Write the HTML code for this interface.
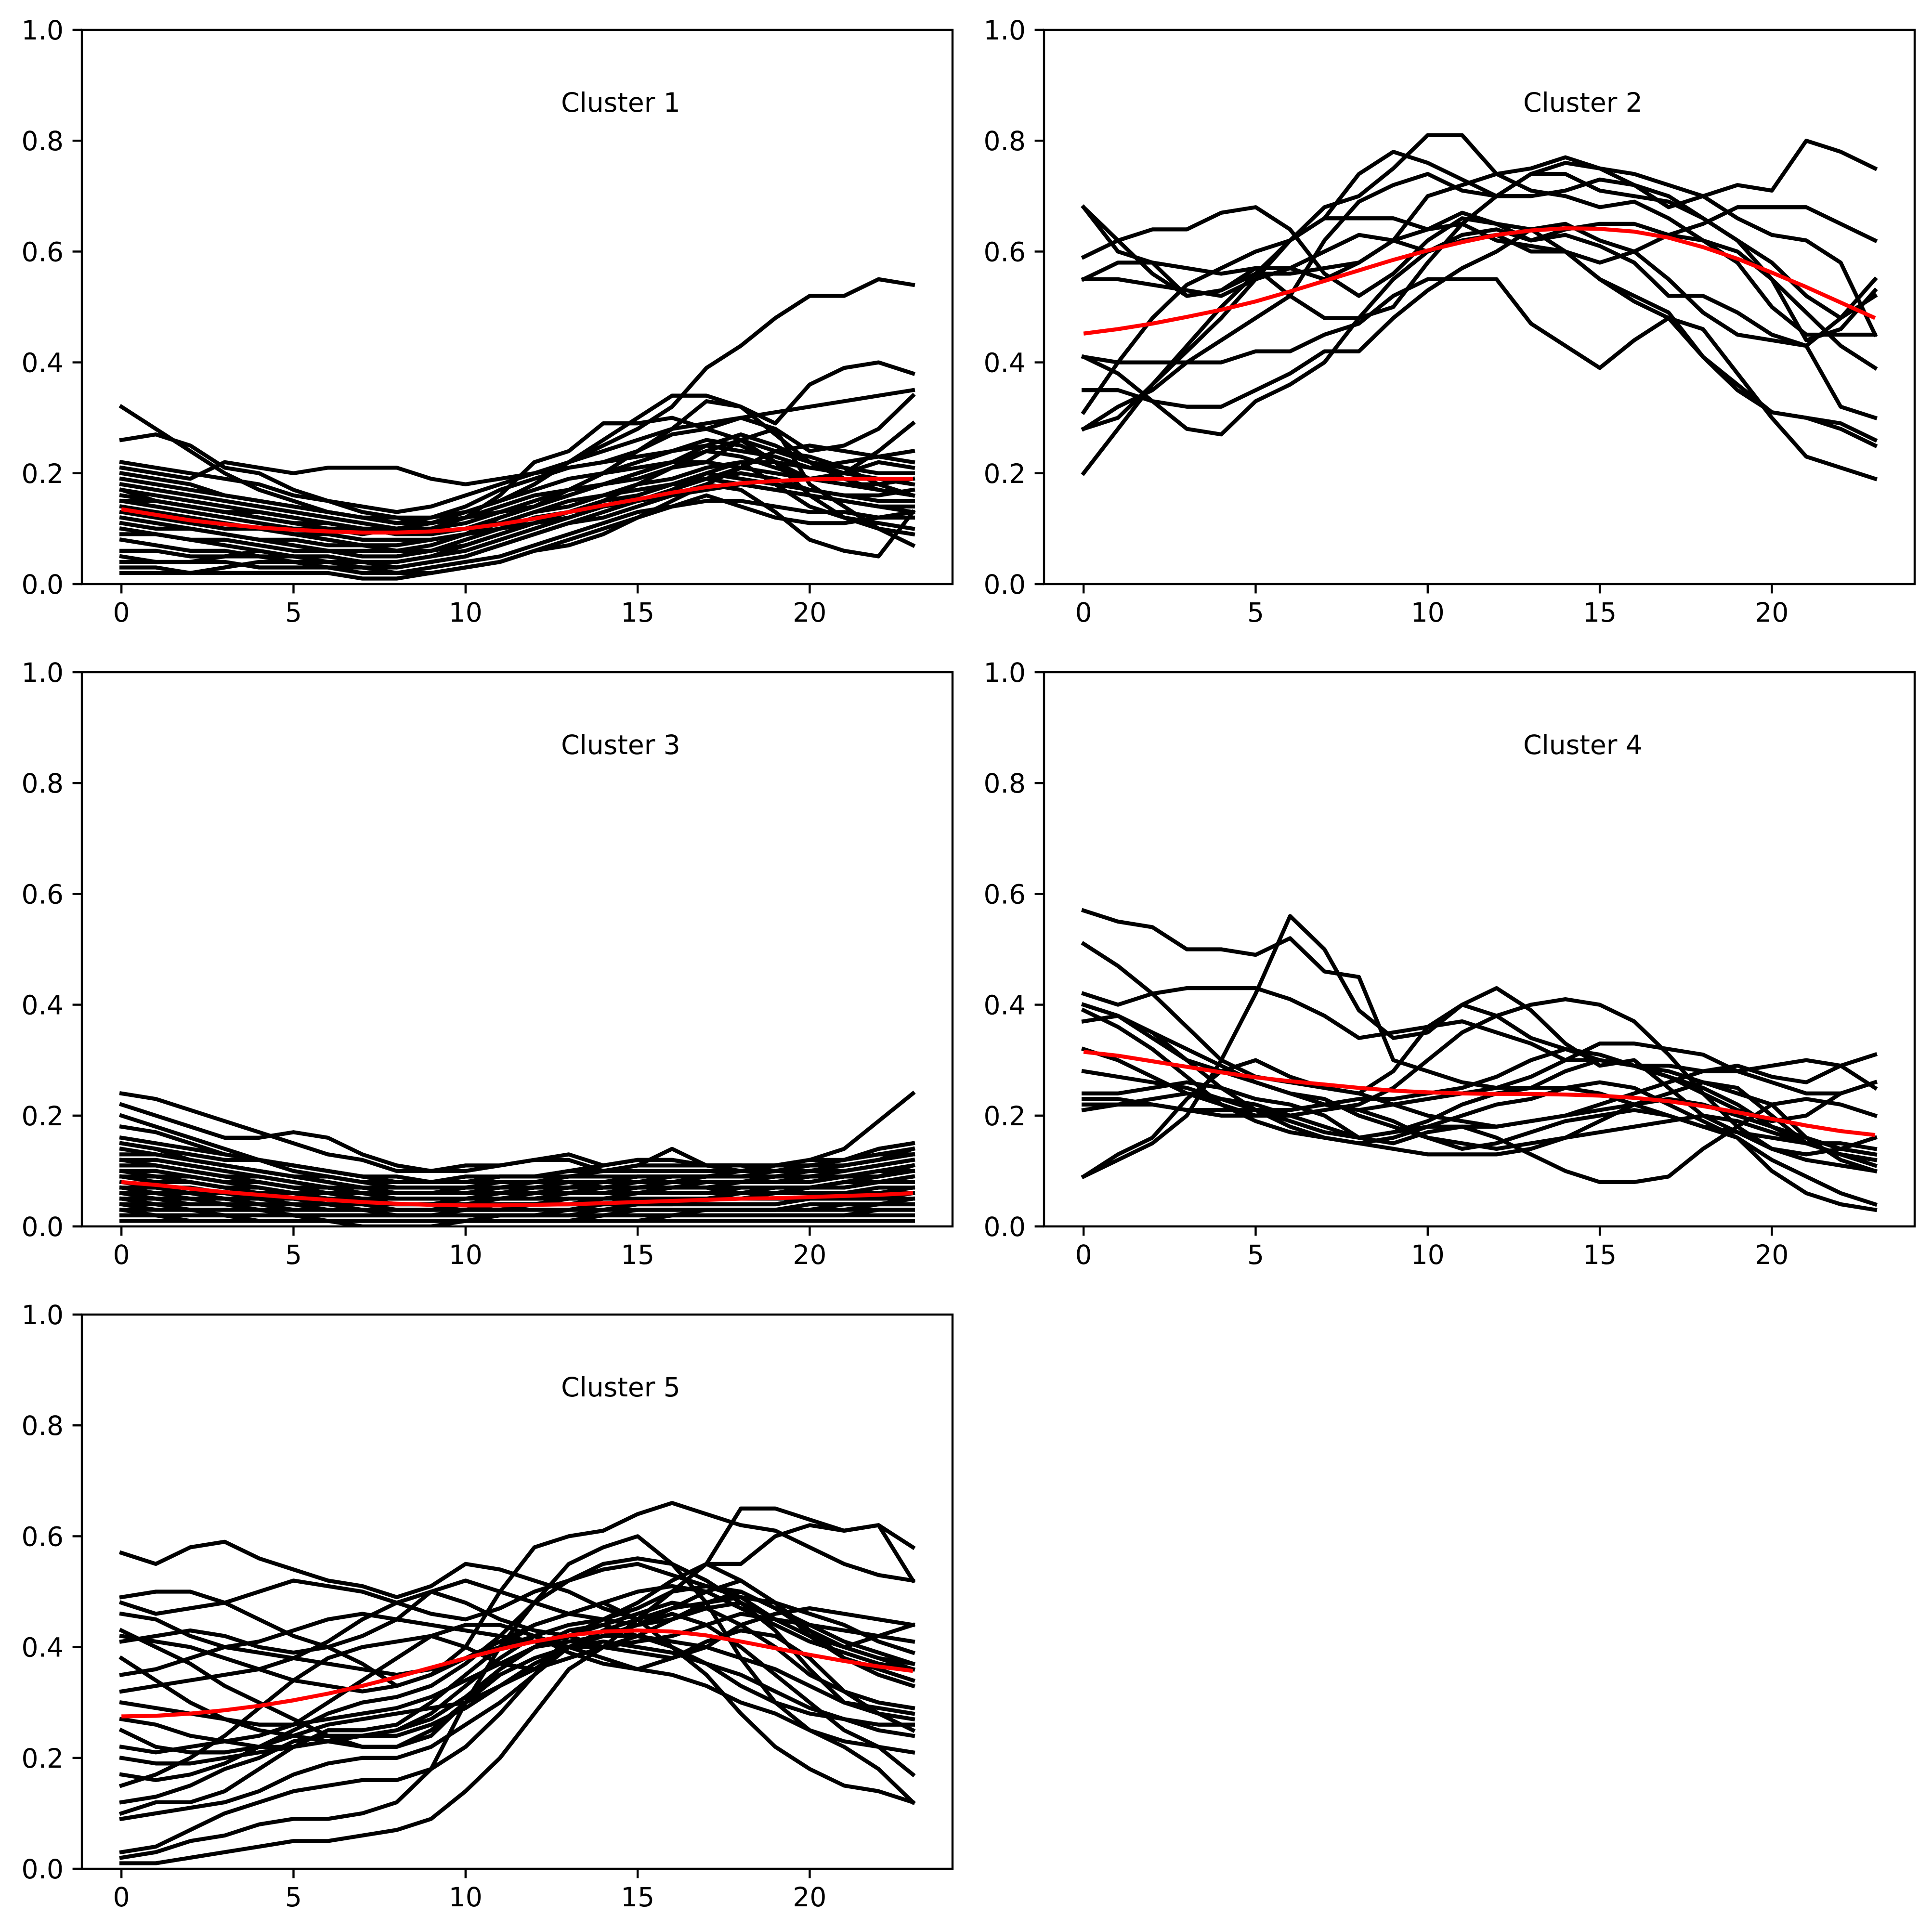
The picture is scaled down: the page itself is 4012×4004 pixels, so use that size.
<!DOCTYPE html>
<html><head><meta charset="utf-8"><style>
html,body{margin:0;padding:0;background:#fff;}
svg{display:block;}
text{font-family:"DejaVu Sans","Liberation Sans",sans-serif;font-size:55px;fill:#000;}
</style></head><body>
<svg id="fig" width="4012" height="4004" viewBox="0 0 4012 4004" xmlns="http://www.w3.org/2000/svg"></svg>
<script>
const xTicks=[0,5,10,15,20];
const yTicks=[0,0.2,0.4,0.6,0.8,1.0];
const yTickLabels=["0.0","0.2","0.4","0.6","0.8","1.0"];
const clusterTitles=["Cluster 1","Cluster 2","Cluster 3","Cluster 4","Cluster 5"];

const c1Lines=[
[0.15,0.14,0.13,0.12,0.11,0.10,0.10,0.09,0.10,0.11,0.13,0.15,0.18,0.22,0.25,0.28,0.32,0.39,0.43,0.48,0.52,0.52,0.55,0.54],
[0.32,0.28,0.24,0.20,0.17,0.15,0.13,0.12,0.11,0.12,0.14,0.17,0.19,0.21,0.22,0.24,0.28,0.33,0.32,0.29,0.36,0.39,0.40,0.38],
[0.26,0.27,0.25,0.21,0.20,0.17,0.15,0.13,0.12,0.11,0.13,0.15,0.18,0.22,0.26,0.30,0.34,0.34,0.32,0.27,0.22,0.19,0.17,0.16],
[0.21,0.20,0.19,0.22,0.21,0.20,0.21,0.21,0.21,0.19,0.18,0.19,0.20,0.22,0.24,0.26,0.28,0.29,0.30,0.31,0.32,0.33,0.34,0.35],
[0.18,0.17,0.16,0.15,0.14,0.13,0.12,0.11,0.10,0.10,0.12,0.16,0.22,0.24,0.29,0.29,0.30,0.28,0.26,0.24,0.22,0.21,0.20,0.20],
[0.17,0.15,0.14,0.13,0.12,0.11,0.10,0.10,0.09,0.10,0.11,0.13,0.14,0.17,0.20,0.24,0.27,0.28,0.30,0.28,0.24,0.25,0.28,0.34],
[0.12,0.11,0.10,0.09,0.08,0.07,0.06,0.06,0.06,0.07,0.09,0.12,0.14,0.16,0.18,0.20,0.22,0.25,0.27,0.25,0.22,0.20,0.24,0.29],
[0.10,0.09,0.08,0.07,0.06,0.05,0.05,0.04,0.04,0.05,0.07,0.09,0.11,0.13,0.15,0.18,0.21,0.24,0.26,0.22,0.16,0.12,0.10,0.09],
[0.05,0.04,0.04,0.05,0.06,0.05,0.05,0.04,0.03,0.04,0.05,0.07,0.09,0.11,0.13,0.15,0.17,0.20,0.22,0.18,0.14,0.12,0.11,0.10],
[0.03,0.03,0.02,0.03,0.04,0.04,0.03,0.03,0.02,0.02,0.03,0.04,0.06,0.08,0.10,0.12,0.15,0.18,0.21,0.24,0.25,0.24,0.23,0.22],
[0.02,0.02,0.02,0.02,0.02,0.02,0.02,0.01,0.01,0.02,0.03,0.04,0.06,0.07,0.09,0.12,0.14,0.16,0.14,0.12,0.11,0.11,0.12,0.13],
[0.14,0.13,0.12,0.11,0.10,0.09,0.09,0.08,0.08,0.08,0.09,0.10,0.11,0.12,0.14,0.16,0.18,0.19,0.18,0.17,0.16,0.15,0.14,0.13],
[0.16,0.15,0.14,0.13,0.12,0.11,0.11,0.10,0.10,0.11,0.12,0.14,0.16,0.17,0.18,0.19,0.21,0.22,0.26,0.28,0.18,0.14,0.10,0.07],
[0.11,0.10,0.10,0.09,0.08,0.08,0.07,0.07,0.06,0.06,0.08,0.10,0.12,0.13,0.14,0.15,0.17,0.19,0.21,0.24,0.23,0.21,0.18,0.16],
[0.20,0.19,0.18,0.16,0.15,0.14,0.13,0.12,0.11,0.11,0.12,0.13,0.15,0.17,0.20,0.22,0.24,0.26,0.25,0.22,0.19,0.20,0.22,0.21],
[0.08,0.07,0.06,0.06,0.05,0.05,0.04,0.04,0.04,0.05,0.06,0.08,0.10,0.12,0.14,0.15,0.16,0.18,0.17,0.13,0.08,0.06,0.05,0.13],
[0.22,0.21,0.20,0.19,0.18,0.16,0.15,0.14,0.13,0.14,0.16,0.18,0.20,0.21,0.22,0.23,0.24,0.25,0.24,0.23,0.21,0.20,0.19,0.18],
[0.19,0.18,0.17,0.16,0.15,0.14,0.13,0.12,0.12,0.12,0.13,0.15,0.17,0.19,0.20,0.21,0.22,0.22,0.21,0.20,0.19,0.18,0.17,0.16],
[0.13,0.12,0.11,0.10,0.10,0.09,0.08,0.07,0.07,0.08,0.09,0.11,0.13,0.14,0.16,0.17,0.18,0.20,0.19,0.18,0.17,0.16,0.15,0.15],
[0.06,0.06,0.05,0.05,0.05,0.04,0.04,0.03,0.03,0.04,0.05,0.07,0.09,0.11,0.12,0.14,0.16,0.17,0.18,0.17,0.16,0.15,0.14,0.14],
[0.04,0.04,0.04,0.04,0.03,0.03,0.03,0.02,0.02,0.03,0.04,0.05,0.07,0.09,0.11,0.13,0.14,0.15,0.15,0.14,0.13,0.13,0.12,0.12],
[0.17,0.16,0.15,0.14,0.13,0.12,0.11,0.10,0.09,0.09,0.10,0.12,0.14,0.16,0.18,0.20,0.22,0.24,0.23,0.21,0.19,0.18,0.18,0.19],
[0.09,0.09,0.08,0.08,0.07,0.06,0.06,0.05,0.05,0.06,0.07,0.09,0.11,0.13,0.15,0.16,0.18,0.19,0.20,0.19,0.17,0.16,0.16,0.17],
[0.15,0.15,0.14,0.13,0.13,0.12,0.11,0.10,0.09,0.09,0.10,0.11,0.13,0.15,0.16,0.18,0.19,0.21,0.22,0.22,0.21,0.22,0.23,0.24]
];
const c1Mean=[0.135,0.125,0.115,0.108,0.102,0.098,0.095,0.093,0.093,0.095,0.100,0.108,0.118,0.130,0.142,0.153,0.165,0.175,0.182,0.186,0.189,0.190,0.190,0.190];

const c2Lines=[
[0.68,0.60,0.58,0.52,0.53,0.56,0.56,0.57,0.58,0.62,0.70,0.72,0.74,0.75,0.77,0.75,0.72,0.68,0.70,0.72,0.71,0.80,0.78,0.75],
[0.20,0.28,0.36,0.43,0.50,0.56,0.62,0.66,0.74,0.78,0.76,0.73,0.70,0.74,0.76,0.75,0.74,0.72,0.70,0.66,0.63,0.62,0.58,0.45],
[0.28,0.30,0.36,0.42,0.48,0.55,0.62,0.68,0.70,0.75,0.81,0.81,0.74,0.71,0.70,0.68,0.69,0.66,0.62,0.60,0.55,0.49,0.43,0.39],
[0.59,0.62,0.64,0.64,0.67,0.68,0.64,0.56,0.52,0.56,0.62,0.66,0.65,0.64,0.60,0.55,0.52,0.49,0.41,0.35,0.31,0.30,0.28,0.25],
[0.41,0.40,0.40,0.40,0.40,0.42,0.42,0.45,0.47,0.52,0.55,0.55,0.55,0.47,0.43,0.39,0.44,0.48,0.46,0.38,0.30,0.23,0.21,0.19],
[0.35,0.35,0.33,0.32,0.32,0.35,0.38,0.42,0.42,0.48,0.53,0.57,0.60,0.64,0.65,0.62,0.60,0.55,0.49,0.45,0.44,0.43,0.32,0.30],
[0.55,0.58,0.58,0.57,0.56,0.57,0.57,0.55,0.58,0.62,0.64,0.65,0.62,0.61,0.60,0.58,0.60,0.63,0.65,0.68,0.68,0.68,0.65,0.62],
[0.68,0.62,0.56,0.52,0.53,0.57,0.52,0.62,0.69,0.72,0.74,0.71,0.70,0.74,0.74,0.71,0.70,0.69,0.66,0.62,0.55,0.44,0.46,0.53],
[0.31,0.40,0.48,0.54,0.57,0.60,0.62,0.66,0.66,0.66,0.64,0.67,0.65,0.62,0.63,0.61,0.58,0.52,0.52,0.49,0.45,0.43,0.48,0.55],
[0.41,0.38,0.33,0.28,0.27,0.33,0.36,0.40,0.48,0.55,0.60,0.63,0.64,0.62,0.64,0.65,0.65,0.63,0.62,0.58,0.50,0.45,0.45,0.45],
[0.55,0.55,0.54,0.53,0.52,0.55,0.57,0.60,0.63,0.62,0.60,0.62,0.63,0.60,0.60,0.55,0.51,0.48,0.41,0.36,0.31,0.30,0.29,0.26],
[0.28,0.32,0.35,0.40,0.44,0.48,0.52,0.48,0.48,0.50,0.58,0.65,0.70,0.70,0.71,0.73,0.72,0.70,0.66,0.62,0.58,0.52,0.48,0.52]
];
const c2Mean=[0.452,0.460,0.470,0.482,0.495,0.510,0.528,0.547,0.566,0.585,0.602,0.617,0.630,0.638,0.642,0.641,0.636,0.625,0.608,0.587,0.562,0.536,0.508,0.480];

const c3Lines=[
[0.24,0.23,0.21,0.19,0.17,0.15,0.13,0.12,0.10,0.10,0.10,0.11,0.12,0.13,0.11,0.12,0.12,0.11,0.11,0.11,0.12,0.14,0.19,0.24],
[0.22,0.20,0.18,0.16,0.16,0.17,0.16,0.13,0.11,0.10,0.11,0.11,0.12,0.12,0.10,0.11,0.14,0.11,0.10,0.11,0.11,0.12,0.14,0.15],
[0.20,0.18,0.16,0.14,0.12,0.10,0.09,0.08,0.08,0.08,0.09,0.09,0.09,0.10,0.11,0.12,0.12,0.11,0.11,0.10,0.11,0.12,0.14,0.15],
[0.15,0.14,0.13,0.12,0.12,0.11,0.10,0.09,0.08,0.08,0.08,0.08,0.08,0.09,0.09,0.09,0.09,0.09,0.09,0.09,0.10,0.10,0.11,0.12],
[0.12,0.12,0.11,0.10,0.09,0.08,0.07,0.07,0.06,0.06,0.06,0.07,0.07,0.07,0.08,0.08,0.08,0.08,0.08,0.08,0.08,0.09,0.09,0.10],
[0.10,0.10,0.09,0.08,0.07,0.06,0.06,0.05,0.05,0.05,0.05,0.05,0.06,0.06,0.06,0.06,0.07,0.07,0.07,0.07,0.07,0.07,0.08,0.08],
[0.08,0.07,0.07,0.06,0.05,0.05,0.04,0.04,0.04,0.04,0.04,0.04,0.04,0.05,0.05,0.05,0.05,0.05,0.06,0.06,0.06,0.06,0.06,0.07],
[0.06,0.05,0.05,0.04,0.04,0.03,0.03,0.03,0.03,0.03,0.03,0.03,0.03,0.03,0.04,0.04,0.04,0.04,0.04,0.04,0.05,0.05,0.05,0.05],
[0.04,0.04,0.03,0.03,0.03,0.02,0.02,0.02,0.02,0.02,0.02,0.02,0.02,0.02,0.03,0.03,0.03,0.03,0.03,0.03,0.03,0.03,0.04,0.04],
[0.02,0.02,0.02,0.02,0.01,0.01,0.01,0.01,0.01,0.01,0.01,0.01,0.01,0.01,0.01,0.01,0.02,0.02,0.02,0.02,0.02,0.02,0.02,0.02],
[0.13,0.13,0.12,0.11,0.10,0.09,0.08,0.07,0.06,0.06,0.07,0.07,0.08,0.08,0.07,0.07,0.07,0.08,0.08,0.09,0.10,0.11,0.12,0.13],
[0.09,0.08,0.08,0.07,0.06,0.06,0.05,0.05,0.04,0.04,0.05,0.05,0.05,0.06,0.06,0.07,0.07,0.07,0.06,0.06,0.07,0.08,0.09,0.11],
[0.05,0.05,0.04,0.04,0.04,0.04,0.03,0.03,0.03,0.03,0.04,0.04,0.04,0.04,0.04,0.05,0.05,0.05,0.05,0.06,0.06,0.06,0.07,0.07],
[0.03,0.03,0.03,0.02,0.02,0.02,0.02,0.02,0.02,0.02,0.02,0.02,0.02,0.03,0.03,0.03,0.03,0.03,0.03,0.03,0.04,0.04,0.04,0.04],
[0.15,0.14,0.12,0.11,0.10,0.09,0.08,0.07,0.07,0.07,0.07,0.07,0.07,0.08,0.08,0.09,0.09,0.09,0.09,0.10,0.10,0.11,0.12,0.14],
[0.01,0.01,0.01,0.01,0.01,0.01,0.01,0.00,0.00,0.00,0.01,0.01,0.01,0.01,0.01,0.01,0.01,0.01,0.01,0.01,0.01,0.01,0.01,0.01],
[0.07,0.06,0.06,0.05,0.05,0.04,0.04,0.04,0.03,0.03,0.03,0.04,0.04,0.04,0.05,0.05,0.05,0.05,0.05,0.05,0.05,0.06,0.06,0.06],
[0.11,0.11,0.10,0.09,0.08,0.07,0.06,0.06,0.05,0.05,0.05,0.06,0.06,0.06,0.07,0.07,0.07,0.07,0.08,0.08,0.08,0.09,0.10,0.11],
[0.14,0.13,0.12,0.11,0.10,0.09,0.09,0.08,0.07,0.07,0.07,0.08,0.08,0.08,0.08,0.08,0.09,0.09,0.10,0.10,0.11,0.11,0.12,0.13],
[0.10,0.09,0.09,0.08,0.08,0.07,0.07,0.06,0.06,0.06,0.06,0.06,0.06,0.07,0.07,0.07,0.08,0.08,0.08,0.08,0.09,0.09,0.10,0.10],
[0.07,0.07,0.06,0.06,0.05,0.05,0.05,0.04,0.04,0.04,0.04,0.05,0.05,0.05,0.05,0.06,0.06,0.06,0.06,0.07,0.07,0.07,0.08,0.09],
[0.05,0.04,0.04,0.04,0.03,0.03,0.03,0.03,0.02,0.02,0.03,0.03,0.03,0.03,0.03,0.04,0.04,0.04,0.04,0.04,0.05,0.05,0.05,0.06],
[0.03,0.02,0.02,0.02,0.02,0.02,0.01,0.01,0.01,0.01,0.01,0.02,0.02,0.02,0.02,0.02,0.02,0.03,0.03,0.03,0.03,0.03,0.03,0.03],
[0.16,0.15,0.14,0.13,0.12,0.11,0.10,0.09,0.08,0.08,0.08,0.09,0.09,0.10,0.10,0.10,0.10,0.10,0.10,0.11,0.11,0.12,0.13,0.14],
[0.12,0.11,0.10,0.09,0.09,0.08,0.07,0.06,0.06,0.06,0.06,0.06,0.07,0.07,0.07,0.08,0.08,0.09,0.09,0.09,0.09,0.10,0.11,0.12],
[0.09,0.09,0.08,0.07,0.07,0.06,0.05,0.05,0.05,0.05,0.05,0.05,0.05,0.06,0.06,0.06,0.06,0.06,0.07,0.07,0.07,0.08,0.08,0.09],
[0.04,0.03,0.03,0.03,0.03,0.02,0.02,0.02,0.02,0.02,0.02,0.02,0.02,0.02,0.02,0.03,0.03,0.03,0.03,0.03,0.03,0.04,0.04,0.05],
[0.06,0.06,0.05,0.05,0.04,0.04,0.04,0.03,0.03,0.03,0.03,0.03,0.04,0.04,0.04,0.04,0.04,0.05,0.05,0.05,0.05,0.05,0.06,0.06],
[0.18,0.17,0.15,0.13,0.12,0.11,0.10,0.09,0.09,0.08,0.08,0.09,0.09,0.09,0.10,0.11,0.11,0.11,0.11,0.11,0.12,0.12,0.13,0.13],
[0.02,0.02,0.01,0.01,0.01,0.01,0.01,0.01,0.01,0.01,0.01,0.01,0.01,0.01,0.02,0.02,0.02,0.02,0.02,0.02,0.02,0.02,0.03,0.03]
];
const c3Mean=[0.080,0.075,0.068,0.062,0.057,0.052,0.048,0.044,0.041,0.039,0.038,0.038,0.039,0.040,0.042,0.044,0.046,0.048,0.050,0.051,0.053,0.055,0.057,0.060];

const c4Lines=[
[0.57,0.55,0.54,0.50,0.50,0.49,0.52,0.46,0.45,0.30,0.28,0.26,0.25,0.25,0.28,0.30,0.29,0.28,0.26,0.24,0.22,0.16,0.12,0.10],
[0.51,0.47,0.42,0.36,0.30,0.27,0.26,0.25,0.24,0.22,0.20,0.19,0.18,0.19,0.20,0.21,0.22,0.24,0.26,0.25,0.20,0.15,0.13,0.12],
[0.09,0.12,0.15,0.20,0.30,0.42,0.56,0.50,0.39,0.34,0.35,0.40,0.43,0.39,0.33,0.29,0.30,0.25,0.20,0.17,0.14,0.13,0.14,0.16],
[0.42,0.40,0.42,0.43,0.43,0.43,0.41,0.38,0.34,0.35,0.36,0.37,0.35,0.33,0.30,0.30,0.29,0.29,0.28,0.28,0.29,0.30,0.29,0.25],
[0.40,0.38,0.35,0.32,0.29,0.26,0.24,0.22,0.21,0.22,0.23,0.24,0.25,0.27,0.30,0.33,0.33,0.32,0.31,0.28,0.26,0.24,0.24,0.26],
[0.22,0.22,0.23,0.24,0.23,0.22,0.20,0.18,0.16,0.17,0.18,0.18,0.18,0.19,0.20,0.22,0.24,0.26,0.28,0.29,0.27,0.26,0.29,0.31],
[0.24,0.24,0.25,0.26,0.25,0.23,0.22,0.20,0.16,0.15,0.17,0.18,0.16,0.13,0.10,0.08,0.08,0.09,0.14,0.18,0.22,0.23,0.22,0.20],
[0.39,0.36,0.32,0.27,0.22,0.19,0.17,0.16,0.15,0.16,0.18,0.20,0.22,0.23,0.25,0.26,0.25,0.22,0.19,0.16,0.10,0.06,0.04,0.03],
[0.28,0.27,0.26,0.25,0.23,0.21,0.19,0.17,0.16,0.17,0.19,0.22,0.24,0.25,0.25,0.24,0.22,0.20,0.18,0.17,0.16,0.15,0.15,0.14],
[0.09,0.13,0.16,0.23,0.28,0.30,0.27,0.25,0.24,0.28,0.36,0.40,0.38,0.34,0.32,0.30,0.29,0.27,0.25,0.22,0.18,0.15,0.13,0.11],
[0.37,0.38,0.35,0.30,0.25,0.21,0.18,0.16,0.15,0.14,0.13,0.13,0.13,0.14,0.16,0.19,0.22,0.23,0.22,0.20,0.18,0.16,0.14,0.13],
[0.23,0.23,0.22,0.21,0.21,0.21,0.21,0.22,0.23,0.23,0.24,0.25,0.27,0.30,0.32,0.31,0.29,0.27,0.24,0.21,0.19,0.20,0.24,0.26],
[0.32,0.30,0.27,0.24,0.22,0.20,0.20,0.21,0.22,0.25,0.30,0.35,0.38,0.40,0.41,0.40,0.37,0.31,0.24,0.18,0.14,0.12,0.11,0.10],
[0.21,0.22,0.22,0.21,0.20,0.20,0.21,0.22,0.21,0.19,0.16,0.15,0.14,0.15,0.16,0.17,0.18,0.19,0.20,0.19,0.17,0.15,0.13,0.12],
[0.40,0.38,0.34,0.30,0.28,0.26,0.24,0.23,0.20,0.18,0.16,0.14,0.15,0.17,0.19,0.20,0.21,0.20,0.18,0.16,0.12,0.09,0.06,0.04]
];
const c4Mean=[0.315,0.308,0.298,0.288,0.278,0.269,0.262,0.256,0.250,0.245,0.242,0.240,0.239,0.239,0.238,0.236,0.232,0.226,0.217,0.206,0.194,0.182,0.172,0.165];

const c5Lines=[
[0.57,0.55,0.58,0.59,0.56,0.54,0.52,0.51,0.49,0.51,0.55,0.54,0.52,0.50,0.47,0.45,0.50,0.55,0.65,0.65,0.63,0.61,0.62,0.52],
[0.49,0.50,0.50,0.48,0.45,0.42,0.40,0.37,0.33,0.35,0.40,0.50,0.58,0.60,0.61,0.64,0.66,0.64,0.62,0.61,0.58,0.55,0.53,0.52],
[0.01,0.01,0.02,0.03,0.04,0.05,0.05,0.06,0.07,0.09,0.14,0.20,0.28,0.36,0.40,0.45,0.50,0.55,0.55,0.60,0.62,0.61,0.62,0.58],
[0.03,0.04,0.07,0.10,0.12,0.14,0.15,0.16,0.16,0.18,0.22,0.28,0.35,0.42,0.45,0.48,0.52,0.55,0.52,0.48,0.42,0.38,0.35,0.33],
[0.02,0.03,0.05,0.06,0.08,0.09,0.09,0.10,0.12,0.18,0.30,0.40,0.48,0.55,0.58,0.60,0.55,0.48,0.38,0.30,0.25,0.22,0.18,0.12],
[0.10,0.12,0.12,0.14,0.18,0.22,0.25,0.25,0.26,0.30,0.35,0.40,0.44,0.46,0.48,0.45,0.40,0.35,0.28,0.22,0.18,0.15,0.14,0.12],
[0.41,0.42,0.43,0.42,0.40,0.39,0.40,0.42,0.45,0.50,0.52,0.50,0.48,0.46,0.45,0.44,0.45,0.47,0.48,0.45,0.42,0.40,0.38,0.36],
[0.38,0.34,0.30,0.27,0.25,0.24,0.23,0.22,0.22,0.24,0.30,0.35,0.38,0.40,0.42,0.44,0.47,0.50,0.52,0.48,0.43,0.38,0.36,0.34],
[0.25,0.22,0.21,0.21,0.22,0.24,0.26,0.27,0.28,0.29,0.30,0.33,0.36,0.40,0.43,0.45,0.47,0.48,0.49,0.48,0.46,0.44,0.41,0.39],
[0.17,0.16,0.17,0.19,0.22,0.25,0.28,0.30,0.31,0.33,0.37,0.42,0.48,0.52,0.55,0.56,0.55,0.52,0.48,0.43,0.36,0.30,0.28,0.27],
[0.46,0.45,0.42,0.40,0.39,0.38,0.37,0.36,0.35,0.36,0.38,0.40,0.42,0.40,0.38,0.36,0.35,0.33,0.30,0.28,0.25,0.23,0.22,0.21],
[0.32,0.33,0.34,0.35,0.36,0.38,0.41,0.45,0.48,0.50,0.48,0.45,0.43,0.42,0.40,0.39,0.38,0.40,0.44,0.46,0.47,0.46,0.45,0.44],
[0.09,0.10,0.11,0.12,0.14,0.17,0.19,0.20,0.20,0.22,0.26,0.30,0.35,0.40,0.42,0.44,0.46,0.44,0.40,0.35,0.30,0.25,0.22,0.17],
[0.22,0.21,0.22,0.23,0.24,0.26,0.30,0.34,0.38,0.42,0.44,0.44,0.42,0.39,0.37,0.36,0.38,0.41,0.43,0.42,0.38,0.32,0.28,0.25],
[0.43,0.40,0.37,0.33,0.30,0.27,0.24,0.22,0.22,0.25,0.30,0.36,0.40,0.43,0.44,0.42,0.40,0.37,0.33,0.30,0.28,0.27,0.26,0.26],
[0.15,0.17,0.20,0.24,0.29,0.34,0.38,0.40,0.41,0.42,0.40,0.37,0.36,0.38,0.40,0.42,0.45,0.48,0.50,0.47,0.44,0.41,0.39,0.37],
[0.48,0.46,0.47,0.48,0.50,0.52,0.51,0.50,0.48,0.46,0.45,0.47,0.50,0.52,0.54,0.55,0.53,0.51,0.50,0.47,0.43,0.40,0.42,0.44],
[0.12,0.13,0.15,0.18,0.20,0.23,0.24,0.24,0.25,0.28,0.33,0.38,0.42,0.44,0.45,0.47,0.50,0.51,0.49,0.45,0.42,0.40,0.38,0.37],
[0.30,0.29,0.28,0.27,0.26,0.26,0.27,0.28,0.29,0.31,0.34,0.37,0.40,0.41,0.42,0.42,0.41,0.40,0.38,0.36,0.33,0.30,0.29,0.28],
[0.35,0.36,0.38,0.40,0.41,0.43,0.45,0.46,0.45,0.44,0.43,0.42,0.41,0.40,0.40,0.41,0.42,0.44,0.46,0.45,0.44,0.43,0.42,0.41],
[0.20,0.19,0.19,0.20,0.21,0.22,0.23,0.24,0.25,0.27,0.31,0.36,0.40,0.42,0.44,0.46,0.48,0.47,0.44,0.40,0.35,0.32,0.30,0.29],
[0.27,0.26,0.24,0.23,0.22,0.22,0.23,0.24,0.24,0.26,0.29,0.33,0.37,0.40,0.41,0.40,0.39,0.37,0.35,0.32,0.29,0.27,0.25,0.24],
[0.42,0.41,0.40,0.38,0.36,0.34,0.33,0.32,0.33,0.35,0.38,0.41,0.44,0.46,0.48,0.50,0.51,0.50,0.47,0.44,0.41,0.39,0.37,0.36]
];
const c5Mean=[0.275,0.276,0.280,0.286,0.294,0.304,0.316,0.330,0.346,0.363,0.380,0.396,0.410,0.421,0.428,0.430,0.428,0.421,0.410,0.398,0.386,0.375,0.365,0.357];

const allLines=[c1Lines,c2Lines,c3Lines,c4Lines,c5Lines];
const allMeans=[c1Mean,c2Mean,c3Mean,c4Mean,c5Mean];

const NS="http://www.w3.org/2000/svg";
const svg=document.getElementById('fig');
const colLeft=[170,2168], rowTop=[62,1396,2730], PW=1808, PH=1151;
const XMIN=-1.15, XMAX=24.15;
function mk(tag,attrs,parent){const e=document.createElementNS(NS,tag);for(const k in attrs)e.setAttribute(k,attrs[k]);parent.appendChild(e);return e;}

allLines.forEach((lines,ci)=>{
  const L=colLeft[ci%2], T=rowTop[Math.floor(ci/2)];
  const sx=v=>L+(v-XMIN)/(XMAX-XMIN)*PW;
  const sy=v=>T+PH-v*PH;
  const g=mk('g',{},svg);
  
  
  const clipId='clip'+ci;
  const cp=mk('clipPath',{id:clipId},g);
  mk('rect',{x:L,y:T,width:PW,height:PH},cp);
  const lg=mk('g',{'clip-path':'url(#'+clipId+')'},g);
  lines.forEach((vals,li)=>{
    const d=vals.map((v,i)=>(i?'L':'M')+sx(i).toFixed(1)+' '+sy(v).toFixed(1)).join(' ');
    const p=mk('path',{d:d,fill:'none',stroke:'#000','stroke-width':8.3,'stroke-linejoin':'round','stroke-linecap':'square'},lg);
    
    
  });
  const mean=allMeans[ci];
  const md=mean.map((v,i)=>(i?'L':'M')+sx(i).toFixed(1)+' '+sy(v).toFixed(1)).join(' ');
  const mp=mk('path',{d:md,fill:'none',stroke:'#ff0000','stroke-width':8.3,'stroke-linejoin':'round'},lg);
  
  
  const fr=mk('rect',{x:L,y:T,width:PW,height:PH,fill:'none',stroke:'#000','stroke-width':4.4},g);
  
  
  yTicks.forEach((v,k)=>{
    const y=sy(v);
    mk('line',{x1:L-19.4,x2:L,y1:y,y2:y,stroke:'#000','stroke-width':4.4},g);
    const t=mk('text',{x:L-38,y:y+20,'text-anchor':'end'},g);
    t.textContent=yTickLabels[k];
    
    
  });
  xTicks.forEach(v=>{
    const x=sx(v);
    mk('line',{x1:x,x2:x,y1:T+PH,y2:T+PH+19.4,stroke:'#000','stroke-width':4.4},g);
    const t=mk('text',{x:x,y:T+PH+38+40,'text-anchor':'middle'},g);
    t.textContent=String(v);
    
    
  });
  const tt=mk('text',{x:L+0.62*PW-2,y:T+0.133*PH+17,'text-anchor':'middle'},g);
  tt.textContent=clusterTitles[ci];
  
  
});
</script>
</body></html>
